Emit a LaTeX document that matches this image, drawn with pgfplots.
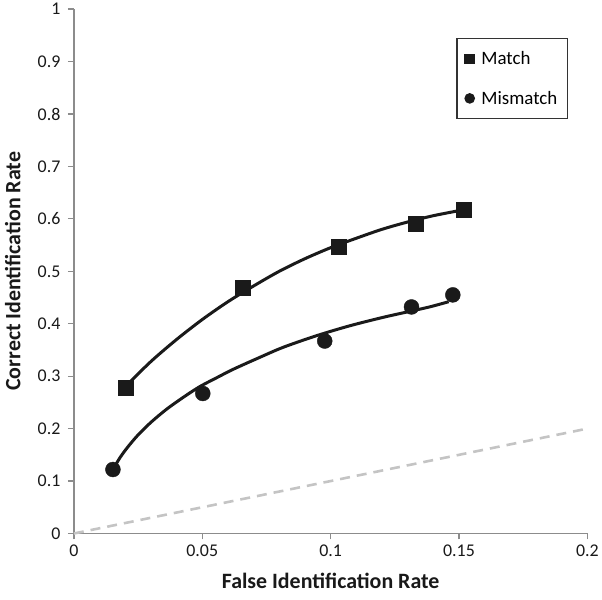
\documentclass[border=0pt]{standalone}
\usepackage{pgfplots}
\pgfplotsset{compat=1.18}
\usepackage{fontspec}
\setmainfont{Carlito}
\definecolor{axisgrey}{HTML}{8C8C8C}
\definecolor{dashgrey}{HTML}{C4C4C4}
\definecolor{markblack}{HTML}{1A1A1A}
\begin{document}
\begin{tikzpicture}
\begin{axis}[
  scale only axis,
  width=514bp, height=525bp,
  xmin=0, xmax=0.2, ymin=0, ymax=1,
  axis x line*=bottom, axis y line*=left,
  axis line style={axisgrey, line width=1.3bp},
  xtick={0,0.05,0.1,0.15,0.2},
  xticklabels={0,0.05,0.1,0.15,0.2},
  ytick={0,0.1,0.2,0.3,0.4,0.5,0.6,0.7,0.8,0.9,1},
  yticklabels={0,0.1,0.2,0.3,0.4,0.5,0.6,0.7,0.8,0.9,1},
  tick align=outside,
  major tick length=6bp,
  tick style={axisgrey, line width=1.3bp},
  tick label style={font=\fontsize{18}{20}\selectfont, text=black!90},
  xticklabel style={yshift=-2bp},
  yticklabel style={xshift=-4bp},
  xlabel={\textbf{False Identification Rate}},
  ylabel={\textbf{Correct Identification Rate}},
  label style={font=\fontsize{22}{24}\selectfont, text=black!90},
  xlabel style={at={(axis description cs:0.5,-0.0895)}, anchor=center},
  ylabel style={at={(axis description cs:-0.119,0.5)}, anchor=center},
  clip=false,
  legend style={at={(rel axis cs:0.745,0.945)}, anchor=north west,
    draw=black!80, line width=1.2bp, font=\fontsize{19}{21}\selectfont,
    inner xsep=8bp, inner ysep=11bp, row sep=21bp,
    nodes={inner sep=2bp},
    /tikz/every odd column/.append style={column sep=5bp}},
  legend cell align=left,
]
\path (rel axis cs:0,0) ++(-74bp,-66bp) coordinate (bbA);
\path (rel axis cs:1,1) ++(14bp,8bp) coordinate (bbB);
\path (bbA) rectangle (bbB);

% reference diagonal
\addplot[dashgrey, line width=2.6bp, dash pattern=on 10bp off 7bp, forget plot]
  coordinates {(0,0) (0.2,0.2)};

% trend curves
\addplot[markblack, line width=3bp, smooth, forget plot] coordinates {
(0.0200,0.280) (0.0300,0.328) (0.0400,0.370) (0.0500,0.408) (0.0600,0.442)
(0.0700,0.472) (0.0800,0.500) (0.0900,0.524) (0.1000,0.545) (0.1100,0.563)
(0.1200,0.580) (0.1300,0.594) (0.1400,0.606) (0.1515,0.617)};
\addplot[markblack, line width=3bp, smooth, forget plot] coordinates {
(0.0153,0.123) (0.0180,0.145) (0.0210,0.165) (0.0250,0.188) (0.0300,0.212)
(0.0361,0.237) (0.0430,0.261) (0.0490,0.280) (0.0560,0.298) (0.0620,0.313)
(0.0720,0.335) (0.0815,0.355) (0.0944,0.377) (0.1074,0.396) (0.1203,0.412)
(0.1294,0.422) (0.1385,0.432) (0.1460,0.442)};

% data markers
\addplot[only marks, mark=square*, mark size=7.5bp, markblack, forget plot] coordinates {
(0.0200,0.278) (0.0658,0.469) (0.1030,0.546) (0.1331,0.591) (0.1517,0.617)};
\addplot[only marks, mark=*, mark size=7.5bp, markblack, forget plot] coordinates {
(0.0152,0.122) (0.0502,0.267) (0.0977,0.367) (0.1315,0.432) (0.1476,0.455)};

\addlegendimage{only marks, mark=square*, mark size=4.7bp, markblack}
\addlegendentry{Match}
\addlegendimage{only marks, mark=*, mark size=4.7bp, markblack}
\addlegendentry{Mismatch}
\end{axis}
\end{tikzpicture}
\end{document}
